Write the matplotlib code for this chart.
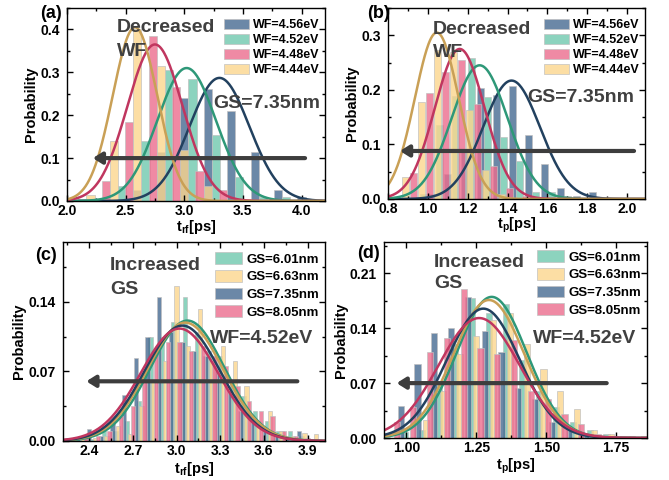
import numpy as np
import matplotlib.pyplot as plt
from matplotlib.ticker import MultipleLocator, AutoMinorLocator, FormatStrFormatter

plt.rcParams['font.family'] = ['Liberation Sans', 'DejaVu Sans']
plt.rcParams['font.weight'] = 'bold'
plt.rcParams['mathtext.fontset'] = 'custom'
plt.rcParams['mathtext.rm'] = 'Liberation Sans:bold'
plt.rcParams['mathtext.default'] = 'rm'

# colours
c_blue, c_green, c_pink, c_yellow = '#466b91', '#6fc9ae', '#ec6d8e', '#fcd68e'
l_blue, l_green, l_pink, l_yellow = '#22415f', '#2e9878', '#c0365f', '#c9a056'
txt_gray = '#404040'

# ---------------- (a) t_rf, WF sweep (GS = 7.35 nm) ----------------
a_labels = ['WF=4.56eV', 'WF=4.52eV', 'WF=4.48eV', 'WF=4.44eV']
a_x = [[2.6, 2.8, 3.0, 3.2, 3.4, 3.6, 3.8, 4.0],
       [2.27, 2.47, 2.67, 2.87, 3.07, 3.27, 3.47, 3.67, 3.87],
       [2.13, 2.33, 2.53, 2.73, 2.93, 3.13, 3.33, 3.53],
       [2.2, 2.4, 2.6, 2.8, 3.0, 3.2]]
a_h = [[0.025, 0.115, 0.24, 0.26, 0.21, 0.115, 0.025, 0.01],
       [0.005, 0.035, 0.14, 0.305, 0.285, 0.155, 0.055, 0.01, 0.01],
       [0.005, 0.047, 0.185, 0.385, 0.265, 0.07, 0.025, 0.005],
       [0.015, 0.14, 0.40, 0.315, 0.12, 0.035]]
# gaussian fits: peak, centre, sigma
a_peak = [0.287, 0.31, 0.365, 0.405]
a_mu = [3.30, 3.02, 2.75, 2.58]
a_sig = [0.255, 0.25, 0.235, 0.19]

# ---------------- (b) t_p, WF sweep ----------------
b_labels = a_labels
b_x = [[1.02, 1.10, 1.185, 1.265, 1.345, 1.425, 1.505, 1.585, 1.665, 1.745, 1.825],
       [0.98, 1.06, 1.14, 1.22, 1.30, 1.38, 1.46, 1.54, 1.62, 1.70],
       [0.93, 1.01, 1.09, 1.17, 1.25, 1.33, 1.41, 1.49],
       [0.89, 0.97, 1.05, 1.13, 1.21, 1.29, 1.37]]
b_h = [[0.01, 0.045, 0.09, 0.203, 0.19, 0.207, 0.117, 0.064, 0.02, 0.005, 0.012],
       [0.01, 0.135, 0.188, 0.258, 0.187, 0.114, 0.07, 0.013, 0.013, 0.005],
       [0.047, 0.194, 0.233, 0.255, 0.175, 0.06, 0.02, 0.005],
       [0.041, 0.178, 0.273, 0.27, 0.163, 0.053, 0.01]]
b_peak = [0.217, 0.245, 0.275, 0.305]
b_mu = [1.42, 1.26, 1.16, 1.045]
b_sig = [0.143, 0.14, 0.125, 0.11]

# ---------------- (c) t_rf, GS sweep (WF = 4.52 eV) ----------------
gs_labels = ['GS=6.01nm', 'GS=6.63nm', 'GS=7.35nm', 'GS=8.05nm']
c_bins = [2.32, 2.40, 2.48, 2.56, 2.64, 2.72, 2.80, 2.88, 2.96, 3.04, 3.12,
          3.20, 3.28, 3.36, 3.44, 3.52, 3.60, 3.68, 3.76, 3.84, 3.92]
c_off = [0.02, 0.04, 0.0, 0.06]
c_h = [[0.0, 0.002, 0.015, 0.01, 0.02, 0.04, 0.105, 0.105, 0.12, 0.145, 0.11,
        0.09, 0.085, 0.06, 0.045, 0.03, 0.02, 0.01, 0.01, 0.005, 0.0],
       [0.002, 0.003, 0.005, 0.015, 0.007, 0.035, 0.06, 0.08, 0.156, 0.095, 0.133,
        0.08, 0.095, 0.08, 0.055, 0.02, 0.03, 0.01, 0.005, 0.008, 0.007],
       [0.002, 0.012, 0.005, 0.02, 0.046, 0.083, 0.105, 0.145, 0.11, 0.10, 0.09,
        0.085, 0.07, 0.05, 0.03, 0.02, 0.01, 0.005, 0.003, 0.01, 0.0],
       [0.003, 0.005, 0.01, 0.025, 0.035, 0.06, 0.09, 0.10, 0.10, 0.09, 0.095,
        0.085, 0.075, 0.055, 0.04, 0.03, 0.025, 0.01, 0.005, 0.003, 0.0]]
c_peak = [0.121, 0.119, 0.116, 0.113]
c_mu = [3.075, 3.06, 3.04, 3.02]
c_sig = [0.255, 0.26, 0.26, 0.265]

# ---------------- (d) t_p, GS sweep ----------------
d_bins = [0.98, 1.04, 1.10, 1.16, 1.22, 1.28, 1.34, 1.40, 1.46, 1.52, 1.58,
          1.64, 1.70, 1.76, 1.82]
d_off = [0.015, 0.03, 0.0, -0.015]
d_h = [[0.008, 0.01, 0.07, 0.12, 0.178, 0.16, 0.171, 0.10, 0.06, 0.04, 0.02,
        0.01, 0.005, 0.002, 0.0],
       [0.0, 0.023, 0.06, 0.107, 0.13, 0.15, 0.16, 0.12, 0.088, 0.06, 0.037,
        0.01, 0.005, 0.002, 0.003],
       [0.041, 0.094, 0.134, 0.14, 0.18, 0.137, 0.11, 0.064, 0.05, 0.02, 0.012,
        0.005, 0.002, 0.0, 0.0],
       [0.02, 0.04, 0.11, 0.127, 0.19, 0.115, 0.107, 0.125, 0.06, 0.05, 0.03,
        0.018, 0.005, 0.002, 0.002]]
d_peak = [0.18, 0.176, 0.165, 0.153]
d_mu = [1.305, 1.295, 1.275, 1.26]
d_sig = [0.125, 0.127, 0.13, 0.145]


def style_axes(ax, xlim, ylim, xmaj, ymaj, xfmt, yfmt, xlabel, ylab_x, xlab_y):
    ax.set_xlim(xlim)
    ax.set_ylim(ylim)
    ax.xaxis.set_major_locator(MultipleLocator(xmaj))
    ax.yaxis.set_major_locator(MultipleLocator(ymaj))
    ax.xaxis.set_minor_locator(AutoMinorLocator(2))
    ax.yaxis.set_minor_locator(AutoMinorLocator(2))
    ax.xaxis.set_major_formatter(FormatStrFormatter(xfmt))
    ax.yaxis.set_major_formatter(FormatStrFormatter(yfmt))
    ax.tick_params(which='both', direction='in', top=True, right=True,
                   labelsize=10, width=1.0)
    ax.tick_params(axis='x', pad=2.0)
    ax.tick_params(axis='y', pad=5.0)
    ax.tick_params(which='major', length=4)
    ax.tick_params(which='minor', length=2.5)
    for s in ax.spines.values():
        s.set_linewidth(1.0)
    ax.set_xlabel(xlabel, fontsize=10.5, fontweight='bold', va='center')
    ax.set_ylabel('Probability', fontsize=10.5, fontweight='bold', va='center')
    ax.yaxis.set_label_coords(ylab_x, 0.5)
    ax.xaxis.set_label_coords(0.5, xlab_y)


def draw_panel(ax, xs, hs, labels, fills, lines, peaks, mus, sigs, width, xlim):
    for x, h, lab, fc in zip(xs, hs, labels, fills):
        ax.bar(x, h, width=width, color=fc, alpha=0.8, edgecolor='#c0c0c0',
               linewidth=0.6, label=lab)
    xx = np.linspace(xlim[0], xlim[1], 400)
    for p, m, s, lc in zip(peaks, mus, sigs, lines):
        ax.plot(xx, p * np.exp(-(xx - m) ** 2 / (2 * s ** 2)), color=lc, lw=1.8)


def arrow(ax, x0, x1, y):
    ax.annotate('', xy=(x1, y), xytext=(x0, y),
                arrowprops=dict(arrowstyle='-|>,head_length=0.35,head_width=0.22',
                                lw=3.0, color='#3d3d3d', mutation_scale=15,
                                shrinkA=0, shrinkB=0))


def notes(ax, x, y1, y2, line1, line2, x2, y3, line3):
    kw = dict(transform=ax.transAxes, fontsize=14, fontweight='bold',
              color=txt_gray, va='baseline', ha='left')
    ax.text(x, y1, line1, **kw)
    ax.text(x, y2, line2, **kw)
    ax.text(x2, y3, line3, **kw)


def legend(ax, size, top, spacing, hl, hh):
    ax.legend(loc='upper right', bbox_to_anchor=(1.0, top), frameon=False,
              fontsize=size, handlelength=hl, handleheight=hh, labelspacing=spacing,
              handletextpad=0.35, borderaxespad=0.2, borderpad=0.2)


fig = plt.figure(figsize=(6.69, 4.8), dpi=100)
W, H = 669, 480


def axes_px(l, t, r, b):
    return fig.add_axes([l / W, 1 - b / H, (r - l) / W, (b - t) / H])


# (a)
ax = axes_px(67, 8, 325, 201)
a_lim = (2.0, 4.2)
draw_panel(ax, a_x, a_h, a_labels, [c_blue, c_green, c_pink, c_yellow],
           [l_blue, l_green, l_pink, l_yellow], a_peak, a_mu, a_sig, 0.07, a_lim)
style_axes(ax, a_lim, (0, 0.45), 0.5, 0.1, '%.1f', '%.1f', r't$_{\rm rf}$[ps]',
           -0.14, -0.135)
arrow(ax, 4.03, 2.22, 0.1)
notes(ax, 0.194, 0.876, 0.751, 'Decreased', 'WF', 0.566, 0.482, 'GS=7.35nm')
legend(ax, 9, 0.97, 0.2, 2.0, 0.9)
fig.text(40 / W, 1 - 14 / H, '(a)', fontsize=13, fontweight='bold', va='center')

# (b)
ax = axes_px(388, 8, 645, 199)
b_lim = (0.8, 2.09)
draw_panel(ax, b_x, b_h, b_labels, [c_blue, c_green, c_pink, c_yellow],
           [l_blue, l_green, l_pink, l_yellow], b_peak, b_mu, b_sig, 0.035, b_lim)
style_axes(ax, b_lim, (0, 0.35), 0.2, 0.1, '%.1f', '%.1f', r't$_{\rm p}$[ps]',
           -0.14, -0.136)
arrow(ax, 2.035, 0.86, 0.088)
notes(ax, 0.175, 0.864, 0.743, 'Decreased', 'WF', 0.54, 0.508, 'GS=7.35nm')
legend(ax, 9, 0.97, 0.2, 2.0, 0.9)
fig.text(367 / W, 1 - 14 / H, '(b)', fontsize=13, fontweight='bold', va='center')

# (c)
ax = axes_px(63, 242, 325, 441)
c_lim = (2.22, 4.02)
c_xs = [[b + o for b in c_bins] for o in c_off]
draw_panel(ax, c_xs, c_h, gs_labels, [c_green, c_yellow, c_blue, c_pink],
           [l_green, l_yellow, l_blue, l_pink], c_peak, c_mu, c_sig, 0.03, c_lim)
style_axes(ax, c_lim, (0, 0.2), 0.3, 0.07, '%.1f', '%.2f', r't$_{\rm rf}$[ps]',
           -0.168, -0.14)
arrow(ax, 3.83, 2.38, 0.06)
notes(ax, 0.179, 0.859, 0.739, 'Increased', 'GS', 0.561, 0.491, 'WF=4.52eV')
legend(ax, 9.5, 0.975, 0.32, 2.1, 1.0)
fig.text(35 / W, 1 - 255 / H, '(c)', fontsize=13, fontweight='bold', va='center')

# (d)
ax = axes_px(384, 242, 647, 438)
d_lim = (0.92, 1.86)
d_xs = [[b + o for b in d_bins] for o in d_off]
draw_panel(ax, d_xs, d_h, gs_labels, [c_green, c_yellow, c_blue, c_pink],
           [l_green, l_yellow, l_blue, l_pink], d_peak, d_mu, d_sig, 0.022, d_lim)
style_axes(ax, d_lim, (0, 0.25), 0.25, 0.07, '%.2f', '%.2f', r't$_{\rm p}$[ps]',
           -0.164, -0.145)
arrow(ax, 1.716, 0.965, 0.07)
notes(ax, 0.191, 0.872, 0.765, 'Increased', 'GS', 0.568, 0.483, 'WF=4.52eV')
legend(ax, 9.5, 0.985, 0.32, 2.1, 1.0)
fig.text(357 / W, 1 - 253 / H, '(d)', fontsize=13, fontweight='bold', va='center')

fig.savefig('out.png', dpi=100)
